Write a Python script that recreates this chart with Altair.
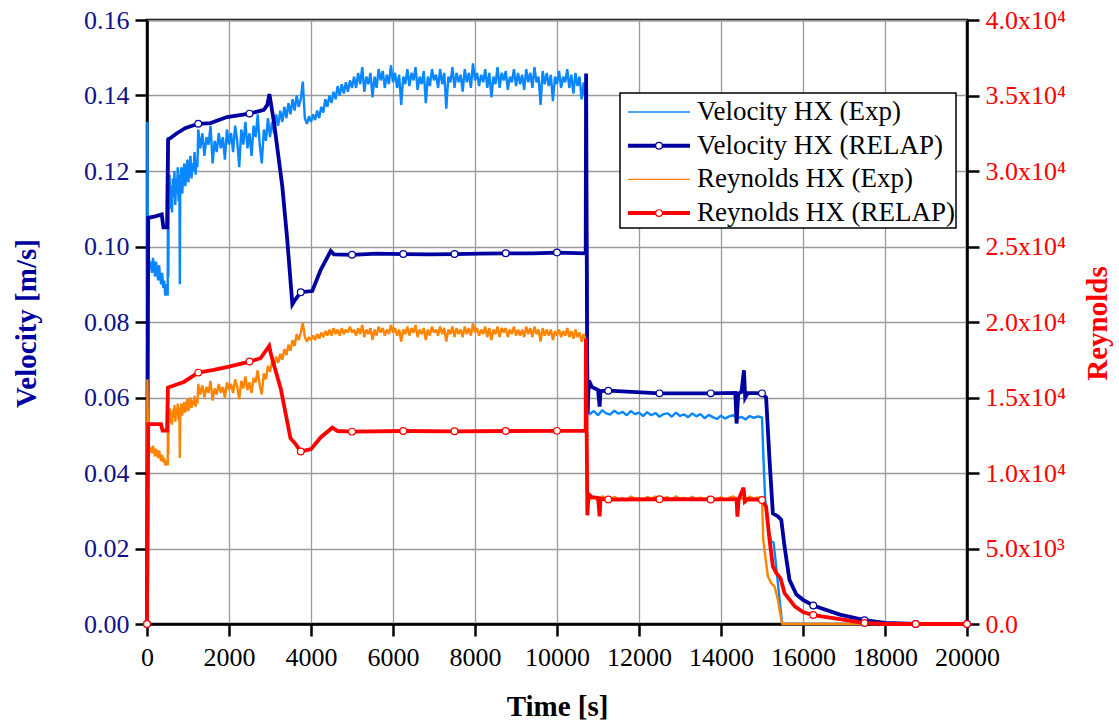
import numpy as np
import pandas as pd
import altair as alt

FONT = "Liberation Serif"
NAVY = "#0000A0"
NAVY_TXT = "#10108A"
LBLUE = "#0A86FF"
ORANGE = "#FF8400"
RED = "#FF0000"

# ---------------- Velocity HX (Exp) ----------------
VEL_EXP_EARLY_T = [0, 10, 25, 45, 70, 95, 120, 145, 170, 195, 220, 245, 270, 295, 320, 345, 370, 395, 420, 445,
                   470, 495, 505, 512, 520, 530, 550, 570, 590, 610, 630, 650, 670, 690, 710, 730, 750, 770, 790,
                   800, 812, 835, 860, 885, 910, 935, 960, 985, 1010, 1035, 1060, 1085, 1110, 1135, 1160, 1185,
                   1210, 1230]
VEL_EXP_EARLY_V = [0.0, 0.133, 0.099, 0.097, 0.094, 0.096, 0.093, 0.097, 0.095, 0.092, 0.096, 0.094, 0.091, 0.095,
                   0.092, 0.090, 0.093, 0.089, 0.091, 0.087, 0.090, 0.088, 0.087, 0.129, 0.092, 0.113, 0.119, 0.110,
                   0.116, 0.109, 0.118, 0.113, 0.120, 0.111, 0.118, 0.114, 0.121, 0.112, 0.119, 0.090, 0.117, 0.121,
                   0.114, 0.119, 0.122, 0.116, 0.120, 0.123, 0.117, 0.121, 0.124, 0.118, 0.122, 0.120, 0.125, 0.119,
                   0.123, 0.121]
# samples every 50 s from 1250 s to 10700 s
VEL_EXP_MAIN_V = (
    [0.131, 0.126, 0.130, 0.124, 0.129, 0.127, 0.132, 0.122, 0.128, 0.125, 0.130, 0.126, 0.129, 0.123, 0.131, 0.127]
    + [0.130, 0.125, 0.132, 0.128, 0.121, 0.131, 0.127, 0.133, 0.126, 0.130, 0.124, 0.132, 0.129, 0.135, 0.127,
       0.122, 0.131, 0.128, 0.134, 0.129]
    + [0.133, 0.130, 0.135, 0.132, 0.136, 0.133, 0.137, 0.134, 0.138, 0.135, 0.139, 0.136, 0.140, 0.137, 0.139, 0.1437]
    + [0.134, 0.1325, 0.1345, 0.133]
    + [0.135, 0.1335, 0.136, 0.134, 0.137, 0.1355, 0.139, 0.137, 0.140, 0.138, 0.141, 0.139, 0.1425, 0.140, 0.143,
       0.1405, 0.1435, 0.141, 0.144, 0.142]
    + [0.145, 0.142, 0.146, 0.143, 0.1475, 0.141, 0.145, 0.143, 0.146, 0.1395, 0.145, 0.142, 0.147, 0.144, 0.1465,
       0.142, 0.1455, 0.143, 0.148, 0.1435]
    + [0.146, 0.142, 0.1455, 0.1375, 0.145, 0.143, 0.147, 0.1425, 0.146, 0.144, 0.1475, 0.1415, 0.145, 0.143, 0.1465,
       0.138, 0.145, 0.1425, 0.147, 0.144]
    + [0.1455, 0.142, 0.147, 0.143, 0.146, 0.1365, 0.145, 0.1435, 0.1475, 0.142, 0.146, 0.1435, 0.1455, 0.141, 0.147,
       0.1435, 0.146, 0.142, 0.1485, 0.144]
    + [0.146, 0.1425, 0.1455, 0.1435, 0.147, 0.142, 0.146, 0.1395, 0.145, 0.143, 0.1475, 0.142, 0.146, 0.144, 0.1465,
       0.1415, 0.145, 0.1435, 0.147, 0.1425]
    + [0.146, 0.143, 0.1455, 0.1415, 0.147, 0.1435, 0.146, 0.142, 0.1475, 0.1435, 0.145, 0.1375, 0.1465, 0.143, 0.146,
       0.1425, 0.1455, 0.1385, 0.145, 0.143]
    + [0.1465, 0.142, 0.145, 0.1435, 0.147, 0.142, 0.1455, 0.1405, 0.146, 0.1425, 0.145, 0.139, 0.1435, 0.138]
)
VEL_EXP_DROP_T = [10720, 10750, 10780]
VEL_EXP_DROP_V = [0.120, 0.070, 0.0555]
# samples every 100 s from 10800 s to 15000 s
VEL_EXP_LATE_V = [0.0556, 0.0564, 0.0553, 0.0566, 0.0558, 0.0555, 0.0565, 0.0557, 0.0562, 0.0553, 0.0564, 0.0556,
                  0.0560, 0.0551, 0.0561, 0.0553, 0.0559, 0.0549, 0.0556, 0.0558, 0.0549, 0.0560, 0.0551, 0.0555,
                  0.0548, 0.0558, 0.0550, 0.0556, 0.0545, 0.0554, 0.0548, 0.0543, 0.0552, 0.0544, 0.0550, 0.0553,
                  0.0545, 0.0549, 0.0542, 0.0551, 0.0546, 0.0550, 0.0547]
VEL_EXP_END_T = [15037, 15078, 15143, 15224, 15282, 15347, 15429, 15494, 17500]
VEL_EXP_END_V = [0.0434, 0.0329, 0.0258, 0.0218, 0.0216, 0.0152, 0.0064, 0.0, 0.0]

# ---------------- Velocity HX (RELAP) ----------------
VEL_RELAP_T = [0, 30, 200, 360, 400, 490, 515, 730, 940, 1250, 1550, 1950, 2500, 2850, 2935, 2985, 3100, 3300,
               3420, 3545, 3590, 3750, 4030, 4240, 4480, 4560, 5000, 5600, 6250, 6900, 7500, 8100, 8750, 9400,
               10000, 10700, 10710, 10740, 10780, 10850, 11000, 11040, 11060, 11250, 12500, 13750, 14350, 14380,
               14420, 14500, 14560, 14590, 14650, 15000, 15100, 15184, 15265, 15390, 15470, 15550, 15670, 15840,
               16000, 16250, 16900, 17500, 18000, 18750, 20000]
VEL_RELAP_V = [0.0, 0.1076, 0.1080, 0.1085, 0.1051, 0.1051, 0.1283, 0.1300, 0.1314, 0.1325, 0.1327, 0.1343,
               0.1352, 0.1362, 0.1375, 0.1404, 0.1327, 0.1159, 0.1019, 0.0847, 0.0855, 0.0879, 0.0882, 0.0939,
               0.0988, 0.0979, 0.0978, 0.0981, 0.0980, 0.0979, 0.0980, 0.0981, 0.0982, 0.0982, 0.0984, 0.0982,
               0.1458, 0.0560, 0.0645, 0.0628, 0.0620, 0.0576, 0.0617, 0.0618, 0.0611, 0.0611, 0.0612, 0.0531,
               0.0610, 0.0615, 0.0672, 0.0600, 0.0612, 0.0611, 0.0600, 0.0434, 0.0293, 0.0285, 0.0276, 0.0205,
               0.0117, 0.0078, 0.0064, 0.0049, 0.0025, 0.0010, 0.0003, 0.0, 0.0]

# ---------------- Reynolds HX (Exp) ----------------
RE_EXP_EARLY_T = VEL_EXP_EARLY_T
RE_EXP_EARLY_V = [0, 16200, 12000, 11800, 11400, 11700, 11300, 11800, 11500, 11100, 11600, 11300, 11000, 11500,
                  11100, 10800, 11200, 10700, 11000, 10500, 10800, 10600, 10500, 15300, 11200, 13600, 14300, 13300,
                  14000, 13200, 14200, 13700, 14500, 13400, 14300, 13800, 14600, 13500, 14300, 11000, 14100, 14600,
                  13800, 14400, 14700, 14000, 14500, 14900, 14100, 14600, 15000, 14300, 14800, 14500, 15100, 14400,
                  14900, 14600]
RE_EXP_MAIN_V = (
    [15900, 15200, 15800, 15000, 15700, 15300, 16100, 14800, 15600, 15200, 15900, 15300, 15700, 15000, 16000, 15500]
    + [15900, 15300, 16200, 15700, 14900, 16100, 15600, 16400, 15500, 16000, 15300, 16300, 16000, 16800, 15800,
       15200, 16600, 16200, 17100, 16700]
    + [17400, 17000, 17700, 17300, 17900, 17500, 18200, 17800, 18500, 18100, 18800, 18400, 19200, 18800, 19300, 19950]
    + [19000, 18700, 19000, 18800]
    + [19100, 18800, 19200, 18900, 19300, 19000, 19400, 19100, 19500, 19100, 19600, 19200, 19500, 19100, 19600,
       19200, 19500, 19300, 19700, 19300]
    + [19500, 19100, 19600, 19200, 19800, 19000, 19500, 19200, 19600, 18800, 19500, 19100, 19700, 19300, 19600,
       19100, 19500, 19200, 19800, 19300]
    + [19600, 19100, 19500, 18700, 19500, 19200, 19700, 19100, 19600, 19300, 19800, 19000, 19500, 19200, 19600,
       18800, 19500, 19100, 19700, 19300]
    + [19500, 19100, 19700, 19200, 19600, 18700, 19500, 19200, 19700, 19000, 19600, 19200, 19500, 19000, 19700,
       19200, 19600, 19100, 19900, 19300]
    + [19600, 19100, 19500, 19200, 19700, 19000, 19600, 18800, 19500, 19200, 19700, 19000, 19600, 19300, 19600,
       19000, 19500, 19200, 19700, 19100]
    + [19500, 19100, 19500, 19000, 19700, 19200, 19600, 19000, 19700, 19200, 19500, 18700, 19600, 19100, 19500,
       19100, 19500, 18800, 19400, 19100]
    + [19500, 19000, 19400, 19100, 19600, 19000, 19400, 18900, 19500, 19000, 19300, 18700, 19200, 18800]
)
RE_EXP_DROP_T = [10720, 10750, 10780]
RE_EXP_DROP_V = [14000, 8600, 8300]
RE_EXP_LATE_V = [8250, 8400, 8200, 8450, 8300, 8200, 8420, 8260, 8350, 8180, 8450, 8280, 8340, 8200, 8420, 8270,
                 8440, 8220, 8330, 8400, 8200, 8460, 8290, 8350, 8230, 8420, 8280, 8370, 8200, 8440, 8300, 8250,
                 8410, 8210, 8360, 8450, 8280, 8330, 8220, 8430, 8300, 8380, 8350]
RE_EXP_END_T = [15030, 15143, 15224, 15306, 15388, 15469, 15494, 17500]
RE_EXP_END_V = [5573, 3150, 2709, 2489, 1608, 286, 0, 0]

# ---------------- Reynolds HX (RELAP) ----------------
RE_RELAP_T = [0, 30, 340, 380, 490, 510, 900, 1060, 1250, 1630, 2000, 2500, 2770, 2980, 3020, 3265, 3500, 3630,
              3750, 4000, 4240, 4520, 4650, 5000, 6250, 7500, 8750, 10000, 10700, 10705, 10740, 10770, 10850,
              11000, 11040, 11060, 11250, 12500, 13750, 14380, 14400, 14430, 14550, 14580, 14650, 15000, 15100,
              15184, 15265, 15350, 15450, 15550, 15800, 16000, 16250, 16900, 17500, 18000, 18750, 20000]
RE_RELAP_V = [0, 13240, 13240, 12800, 12800, 15660, 16030, 16320, 16650, 16830, 17050, 17380, 17600, 18420, 17900,
              15550, 12300, 11900, 11420, 11580, 12370, 13000, 12780, 12740, 12780, 12760, 12780, 12790, 12800,
              18900, 7200, 8600, 8400, 8350, 7130, 8300, 8240, 8260, 8250, 8250, 7115, 8250, 9031, 8100, 8260,
              8216, 7775, 5573, 3811, 3370, 3040, 2048, 1167, 793, 595, 330, 66, 0, 0, 0]

X_TICKS = list(range(0, 20001, 2000))
VEL_TICKS = [0.0, 0.02, 0.04, 0.06, 0.08, 0.10, 0.12, 0.14, 0.16]
RE_TICKS = [0, 5000, 10000, 15000, 20000, 25000, 30000, 35000, 40000]
MARKER_STEP = 1250

LEGEND_LABELS = ["Velocity HX (Exp)", "Velocity HX (RELAP)", "Reynolds HX (Exp)", "Reynolds HX (RELAP)"]
LEGEND_COLORS = [LBLUE, NAVY, ORANGE, RED]
LEGEND_WIDTHS = [1.3, 4.0, 1.3, 4.0]
LEGEND_MARKER = [False, True, False, True]


def build_exp(early_t, early_v, main_v, drop_t, drop_v, late_v, end_t, end_v):
    t = list(early_t) + [1250 + 50 * i for i in range(len(main_v))] + list(drop_t) \
        + [10800 + 100 * i for i in range(len(late_v))] + list(end_t)
    v = list(early_v) + list(main_v) + list(drop_v) + list(late_v) + list(end_v)
    return pd.DataFrame({"t": t, "y": v})


vel_exp = build_exp(VEL_EXP_EARLY_T, VEL_EXP_EARLY_V, VEL_EXP_MAIN_V, VEL_EXP_DROP_T, VEL_EXP_DROP_V,
                    VEL_EXP_LATE_V, VEL_EXP_END_T, VEL_EXP_END_V)
re_exp = build_exp(RE_EXP_EARLY_T, RE_EXP_EARLY_V, RE_EXP_MAIN_V, RE_EXP_DROP_T, RE_EXP_DROP_V,
                   RE_EXP_LATE_V, RE_EXP_END_T, RE_EXP_END_V)
vel_relap = pd.DataFrame({"t": VEL_RELAP_T, "y": VEL_RELAP_V})
re_relap = pd.DataFrame({"t": RE_RELAP_T, "y": RE_RELAP_V})
vel_marks = vel_relap[vel_relap["t"] % MARKER_STEP == 0]
re_marks = re_relap[re_relap["t"] % MARKER_STEP == 0]

x_enc = alt.X("t:Q", scale=alt.Scale(domain=[0, 20000], nice=False),
              axis=alt.Axis(values=X_TICKS, format="d", title="Time [s]", titleX=410, titleY=82,
                            titleBaseline="middle", labelPadding=8))

y_vel = alt.Y("y:Q", scale=alt.Scale(domain=[0, 0.16], nice=False, zero=False),
              axis=alt.Axis(orient="left", values=VEL_TICKS, format=".2f", labelColor=NAVY_TXT,
                            title="Velocity [m/s]", titleColor=NAVY, titleX=-121, titleY=303,
                            titleAngle=270, titleBaseline="middle", titleAlign="center", labelPadding=6))
y_re = alt.Y("y:Q", scale=alt.Scale(domain=[0, 40000], nice=False, zero=False),
             axis=alt.Axis(orient="right", values=RE_TICKS, grid=False, labelColor=RED,
                           labelExpr="datum.value == 0 ? '0.0' : (datum.value < 10000 ? "
                                     "format(datum.value/1000, '.1f') + 'x10\u00b3' : "
                                     "format(datum.value/10000, '.1f') + 'x10\u2074')",
                           title="Reynolds", titleColor=RED, titleX=130, titleY=303, titleAngle=270,
                           titleBaseline="middle", titleAlign="center", labelPadding=6))

l_vel_exp = alt.Chart(vel_exp).mark_line(color=LBLUE, strokeWidth=2.4, strokeJoin="bevel").encode(x=x_enc, y=y_vel)
l_vel_relap = alt.Chart(vel_relap).mark_line(color=NAVY, strokeWidth=3.8).encode(x=x_enc, y=y_vel)
p_vel = alt.Chart(vel_marks).mark_point(shape="circle", filled=True, fill="white", stroke=NAVY,
                                        strokeWidth=1.2, size=45, opacity=1).encode(x=x_enc, y=y_vel)
l_re_exp = alt.Chart(re_exp).mark_line(color=ORANGE, strokeWidth=2.4, strokeJoin="bevel").encode(x=x_enc, y=y_re)
l_re_relap = alt.Chart(re_relap).mark_line(color=RED, strokeWidth=3.8).encode(x=x_enc, y=y_re)
p_re = alt.Chart(re_marks).mark_point(shape="circle", filled=True, fill="white", stroke=RED,
                                      strokeWidth=1.2, size=45, opacity=1).encode(x=x_enc, y=y_re)

vel_layer = alt.layer(l_vel_exp, l_vel_relap, p_vel)
re_layer = alt.layer(l_re_exp, l_re_relap, p_re)

# ---------------- legend (drawn in pixel space) ----------------
leg_df = pd.DataFrame({"label": LEGEND_LABELS, "i": [0, 1, 2, 3], "col": LEGEND_COLORS,
                       "w": LEGEND_WIDTHS, "marker": LEGEND_MARKER})
ly = alt.Y("ly:Q", scale=None, axis=None)
leg_base = alt.Chart(leg_df).transform_calculate(ly="92 + datum.i * 33.7")
leg_box = alt.Chart(leg_df.head(1)).mark_rect(fill="white", stroke="black", strokeWidth=1.5).encode(
    x=alt.value(473), x2=alt.value(809), y=alt.value(73), y2=alt.value(208))
leg_lines = leg_base.mark_rule().encode(
    x=alt.value(481), x2=alt.value(543), y=ly,
    color=alt.Color("col:N", scale=None, legend=None),
    strokeWidth=alt.StrokeWidth("w:Q", scale=None, legend=None))
leg_pts = leg_base.transform_filter("datum.marker").mark_point(
    shape="circle", filled=True, fill="white", strokeWidth=1.2, size=45, opacity=1).encode(
    x=alt.value(512), y=ly, stroke=alt.Stroke("col:N", scale=None, legend=None))
leg_text = leg_base.mark_text(align="left", baseline="middle", font=FONT, fontSize=27, color="black").encode(
    x=alt.value(550), y=ly, text="label:N")
legend = alt.layer(leg_box, leg_lines, leg_pts, leg_text)

chart = alt.layer(vel_layer, re_layer, legend).resolve_scale(y="independent").properties(
    width=820, height=604, autosize="none",
    padding={"left": 147, "top": 20, "right": 152, "bottom": 98},
).configure(background="white").configure_view(
    stroke="black", strokeWidth=2.5
).configure_axis(
    labelFont=FONT, labelFontSize=26, titleFont=FONT, titleFontSize=29, titleFontWeight="bold",
    domainColor="black", domainWidth=2.5, tickColor="black", tickWidth=2.5, tickSize=12,
    gridColor="#9a9a9a", gridWidth=1.3, gridOpacity=1, labelColor="black", titleColor="black",
    labelOverlap=False, labelBound=False, labelFlush=False
)

chart.save("out.html", embed_options={"renderer": "svg", "actions": False})
